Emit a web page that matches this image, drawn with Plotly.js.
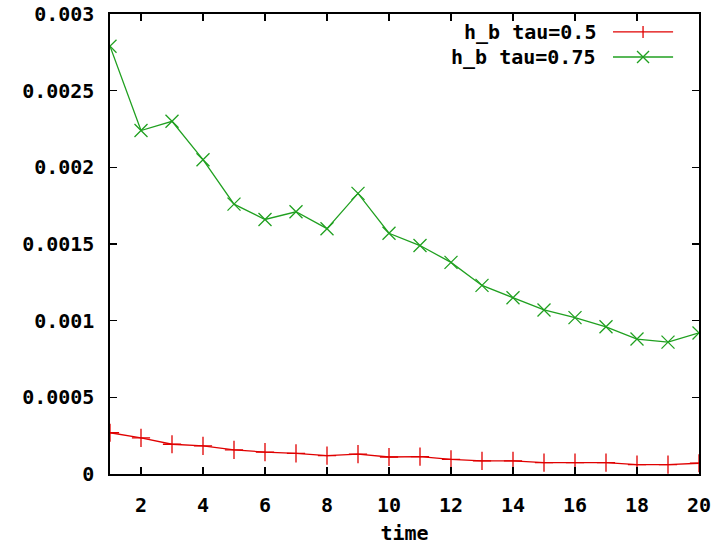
<!DOCTYPE html>
<html><head><meta charset="utf-8">
<script src="https://cdn.plot.ly/plotly-3.0.1.min.js"></script>
<style>html,body{margin:0;padding:0;background:#fff}#chart{width:728px;height:545px}</style>
</head><body><div id="chart"></div>
<script>
const time = [1,2,3,4,5,6,7,8,9,10,11,12,13,14,15,16,17,18,19,20];
const tau05 = [0.000269,0.000235,0.000194,0.000183,0.000157,0.000143,0.000135,0.000120,0.000130,0.000111,
               0.000113,0.000096,0.000085,0.000085,0.000074,0.000074,0.000074,0.000061,0.000061,0.000070];
const tau075 = [0.00279,0.00224,0.00230,0.00205,0.00176,0.00166,0.00171,0.00160,0.00183,0.00157,
                0.00149,0.00138,0.00123,0.00115,0.00107,0.00102,0.00096,0.00088,0.00086,0.00092];
const seriesNames = ['h_b tau=0.5','h_b tau=0.75'];
const xTicks = [2,4,6,8,10,12,14,16,18,20];
const yTicks = [0,0.0005,0.001,0.0015,0.002,0.0025,0.003];
const yTickText = ['0','0.0005','0.001','0.0015','0.002','0.0025','0.003'];

const RED = '#e00000', GREEN = '#20a020';
const FONT = {family:'DejaVu Sans Mono', size:20, color:'#000', weight:'bold'};

const traces = [
  {x: time, y: tau05, name: seriesNames[0], mode:'lines+markers', showlegend:false,
   line:{color:RED, width:1.3}, marker:{symbol:'cross-thin', size:13, line:{color:RED, width:1.3}}},
  {x: time, y: tau075, name: seriesNames[1], mode:'lines+markers', showlegend:false,
   line:{color:GREEN, width:1.3}, marker:{symbol:'x-thin', size:13, line:{color:GREEN, width:1.3}}}
];

// manual gnuplot-style legend (text on left, sample on right)
const legX = 0.8285, lineX0 = 0.854, lineX1 = 0.956, mkX = 0.905;
const rowY = [0.961, 0.9065];
const colors = [RED, GREEN];
const annotations = seriesNames.map((n,i)=>({
  xref:'paper', yref:'paper', x:legX, y:rowY[i], xanchor:'right', yanchor:'middle',
  text:n, showarrow:false, font:FONT
}));
const shapes = [];
rowY.forEach((yy,i)=>{
  shapes.push({type:'line', xref:'paper', yref:'paper', x0:lineX0, x1:lineX1, y0:yy, y1:yy,
    line:{color:colors[i], width:1.3}});
  if(i===0){
    shapes.push({type:'line', xref:'paper', yref:'paper', xsizemode:'pixel', ysizemode:'pixel',
      xanchor:mkX, yanchor:yy, x0:0, x1:0, y0:-6, y1:6, line:{color:colors[i], width:1.3}});
  } else {
    shapes.push({type:'line', xref:'paper', yref:'paper', xsizemode:'pixel', ysizemode:'pixel',
      xanchor:mkX, yanchor:yy, x0:-6, x1:6, y0:-6, y1:6, line:{color:colors[i], width:1.3}});
    shapes.push({type:'line', xref:'paper', yref:'paper', xsizemode:'pixel', ysizemode:'pixel',
      xanchor:mkX, yanchor:yy, x0:-6, x1:6, y0:6, y1:-6, line:{color:colors[i], width:1.3}});
  }
});

const layout = {
  width:728, height:545,
  margin:{l:110, r:29, t:14, b:71},
  paper_bgcolor:'#fff', plot_bgcolor:'#fff',
  font:FONT,
  showlegend:false,
  xaxis:{range:[1,20], tickvals:xTicks, ticks:'inside', ticklen:7, tickwidth:1.3, tickcolor:'#000',
    showline:true, linecolor:'#000', linewidth:1.6, mirror:'ticks', showgrid:false, zeroline:false,
    tickfont:FONT, ticklabelstandoff:12,
    title:{text:'time', font:FONT, standoff:21}},
  yaxis:{range:[0,0.003], tickvals:yTicks, ticktext:yTickText, ticks:'inside', ticklen:7, tickwidth:1.3, tickcolor:'#000',
    showline:true, linecolor:'#000', linewidth:1.6, mirror:'ticks', showgrid:false, zeroline:false,
    tickfont:FONT, ticklabelstandoff:10},
  annotations, shapes
};
Plotly.newPlot('chart', traces, layout, {displayModeBar:false, staticPlot:true});
</script></body></html>
